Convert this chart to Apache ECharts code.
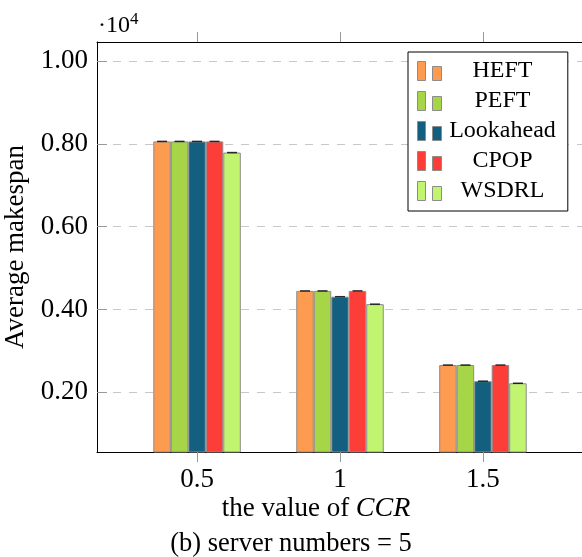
<!DOCTYPE html>
<html>
<head>
<meta charset="utf-8">
<script src="https://cdn.jsdelivr.net/npm/echarts@6/dist/echarts.min.js"></script>
<style>
  html, body { margin: 0; padding: 0; background: #fff; }
  #chart { width: 582px; height: 557px; }
</style>
</head>
<body>
<div id="chart"></div>
<script>
// average makespan vs CCR, server numbers = 5
const ccr = [0.5, 1, 1.5];
const yTicks = [2000, 4000, 6000, 8000, 10000];
const names = ['HEFT', 'PEFT', 'Lookahead', 'CPOP', 'WSDRL'];
const heft = [8060, 4450, 2660];
const peft = [8060, 4450, 2660];
const lookahead = [8060, 4310, 2270];
const cpop = [8060, 4450, 2660];
const wsdrl = [7790, 4130, 2220];

const values = [heft, peft, lookahead, cpop, wsdrl];
const colors = ['#fd9b50', '#a6d648', '#135f7f', '#fd3d37', '#c2f56f'];
const font = 'Liberation Serif';
const barW = 17.5;

const chart = echarts.init(document.getElementById('chart'));

const series = [];
names.forEach(function (n, i) {
  series.push({
    name: n,
    type: 'bar',
    barWidth: barW,
    barGap: '0%',
    z: 2,
    itemStyle: { color: colors[i], borderColor: '#8c8c8c', borderWidth: 1 },
    data: ccr.map(function (x, j) { return [x, values[i][j]]; })
  });
});
// little black caps on top of every bar
names.forEach(function (n, i) {
  series.push({
    type: 'scatter',
    symbol: 'rect',
    symbolSize: [10, 1.5],
    symbolOffset: [(i - 2) * barW, 0],
    silent: true,
    z: 3,
    itemStyle: { color: '#000' },
    data: ccr.map(function (x, j) { return [x, values[i][j]]; })
  });
});

const option = {
  animation: false,
  textStyle: { fontFamily: font },
  grid: { left: 97, top: 42, right: -1, bottom: 105, outerBoundsMode: 'none' },
  legend: {
    data: names,
    orient: 'vertical',
    left: 408,
    top: 52,
    padding: [7, 12, 8, 9],
    itemGap: 6,
    itemWidth: 24,
    itemHeight: 19,
    itemTextGap: 5,
    borderColor: '#000',
    borderWidth: 1,
    backgroundColor: '#fff',
    icon: 'path://M0,0h8v19h-8z M15,5h9v14h-9z',
    itemStyle: { borderColor: '#8c8c8c', borderWidth: 1 },
    formatter: '{a|{name}}',
    textStyle: {
      rich: { a: { width: 112, align: 'center', fontSize: 24, fontFamily: font, color: '#000' } }
    }
  },
  xAxis: [{
    type: 'value',
    min: 0.15,
    max: 1.85,
    axisLine: { lineStyle: { color: '#000', width: 1 } },
    axisTick: { customValues: ccr, length: 10, lineStyle: { color: '#999' } },
    axisLabel: { customValues: ccr, margin: 14, fontSize: 27, color: '#000', fontFamily: font,
      formatter: function (v) { return String(v); } },
    splitLine: { show: false }
  }, {
    type: 'value',
    position: 'top',
    min: 0.15,
    max: 1.85,
    axisLine: { show: true, lineStyle: { color: '#000', width: 1 } },
    axisTick: { customValues: ccr, length: 10, lineStyle: { color: '#999' } },
    axisLabel: { show: false },
    splitLine: { show: false }
  }],
  yAxis: {
    type: 'value',
    min: 560,
    max: 10460,
    name: 'Average makespan',
    nameLocation: 'middle',
    nameGap: 57,
    nameTextStyle: { fontSize: 27, color: '#000', fontFamily: font },
    axisLine: { show: true, lineStyle: { color: '#000', width: 1 } },
    axisTick: { customValues: yTicks, inside: true, length: 10, lineStyle: { color: '#999' } },
    axisLabel: { customValues: yTicks, margin: 9, fontSize: 27, color: '#000', fontFamily: font,
      formatter: function (v) { return (v / 10000).toFixed(2); } },
    splitLine: { show: true, lineStyle: { color: '#c8c8c8', type: [8, 8], width: 1 } }
  },
  graphic: [
    { type: 'text', left: 98, top: 11,
      style: { text: '·10{s|4}', fontSize: 24, fontFamily: font, fill: '#000',
        rich: { s: { fontSize: 17, verticalAlign: 'top', padding: [0, 0, 12, 0], fontFamily: font } } } },
    { type: 'text', x: 316, y: 509,
      style: { text: 'the value of {i|CCR}', fontSize: 27, fontFamily: font, fill: '#000',
        align: 'center', verticalAlign: 'middle',
        rich: { i: { fontStyle: 'italic', fontSize: 28, fontFamily: font } } } },
    { type: 'text', x: 291, y: 544,
      style: { text: '(b) server numbers = 5', fontSize: 26.5, fontFamily: font, fill: '#000',
        align: 'center', verticalAlign: 'middle' } }
  ],
  series: series
};

chart.setOption(option);
</script>
</body>
</html>
